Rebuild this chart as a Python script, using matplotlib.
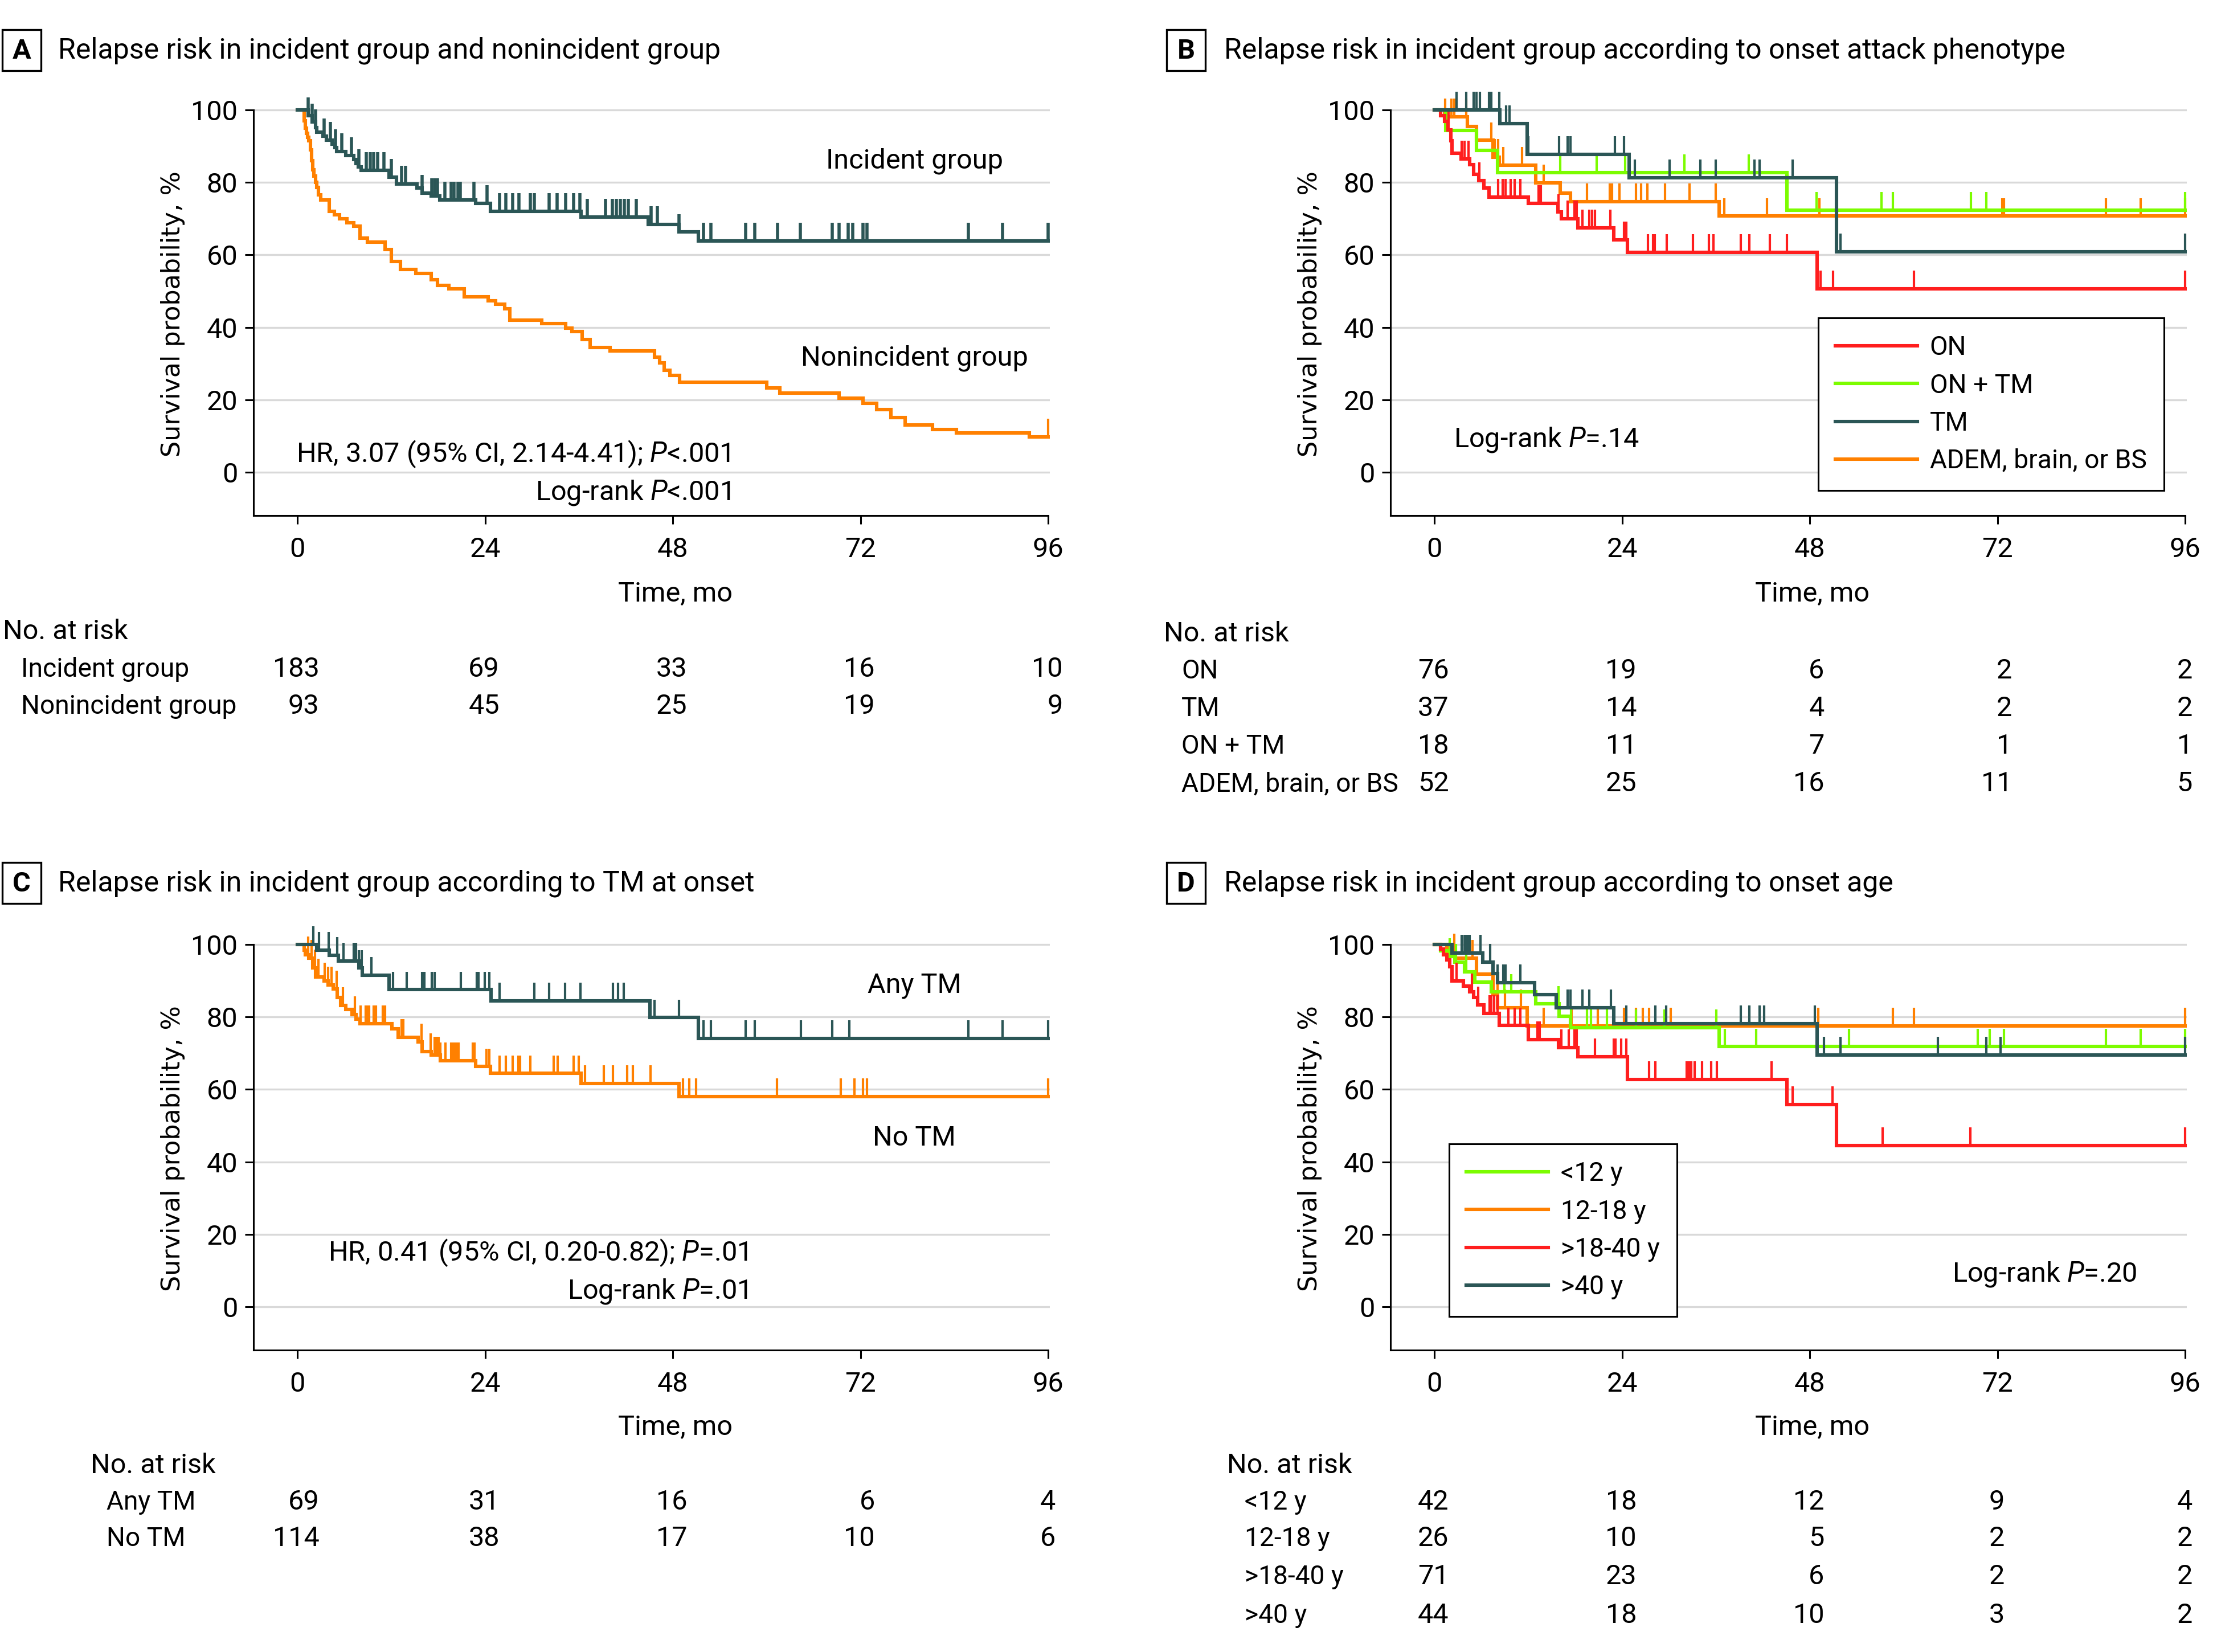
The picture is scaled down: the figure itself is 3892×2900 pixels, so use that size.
import numpy as np
import matplotlib.pyplot as plt
from matplotlib.lines import Line2D
from matplotlib.patches import Rectangle
from matplotlib.transforms import blended_transform_factory

plt.rcParams['font.family'] = ['Roboto', 'DejaVu Sans']
plt.rcParams['mathtext.fontset'] = 'custom'
plt.rcParams['mathtext.rm'] = 'Roboto'
plt.rcParams['mathtext.it'] = 'Roboto:italic'

TEAL = '#2b5656'
ORANGE = '#ff8000'
RED = '#ff1e1e'
GREEN = '#7cfc00'
GRID = '#d9d9d9'

risk_times = [0, 24, 48, 72, 96]
y_ticks = [0, 20, 40, 60, 80, 100]

# Panel A: incident vs nonincident
inc_t = [0, 1.39, 1.9, 2.3, 2.46, 3.28, 3.7, 4.41, 4.8, 5.06, 6.2, 7.18, 7.5, 7.8, 8.15,
         11.73, 12.7, 15.3, 15.95, 17.1, 18.2, 22.8, 24.7, 36.3, 44.9, 48.8, 51.3]
inc_s = [100, 98.4, 96.7, 95.2, 93.8, 92.7, 91.7, 90.6, 89.6, 88.5, 87.5, 86.3, 85.2, 84.2, 83.3,
         81.5, 79.6, 78.4, 77.0, 76.2, 75.2, 74.2, 72.0, 70.4, 68.4, 66.3, 63.9]
inc_c = [1.39, 1.91, 2.30, 3.44, 4.25, 4.90, 5.71, 6.91, 7.83, 8.80, 9.29, 9.78, 10.27, 11.08,
         12.05, 13.35, 13.84, 15.95, 17.19, 17.58, 17.90, 18.88, 19.69, 20.02, 20.51, 20.83,
         22.6, 24.25, 25.87, 26.69, 27.5, 28.3, 29.8, 30.3, 32.2, 33.2, 34.3, 35.3, 36.1, 37.1,
         39.4, 40.3, 40.8, 41.3, 41.8, 42.3, 43.3, 45.2, 46.0, 48.8, 51.9, 52.9, 57.3, 58.5,
         61.4, 64.3, 68.4, 69.3, 70.4, 71.0, 72.3, 72.8, 85.8, 90.2, 96]
non_t = [0, 0.84, 1.0, 1.15, 1.32, 1.49, 1.65, 1.81, 1.95, 2.14, 2.3, 2.46, 2.7, 2.95, 4.09,
         4.74, 5.39, 6.36, 7.18, 7.99, 8.96, 11.24, 12.05, 13.19, 15.14, 17.09, 17.91, 19.37,
         21.32, 24.41, 25.38, 26.53, 27.17, 31.24, 34.33, 35.14, 36.44, 37.41, 40.01, 45.7,
         46.3, 46.9, 47.6, 48.9, 60.0, 61.7, 69.3, 72.3, 74.1, 75.9, 77.7, 81.2, 84.3, 93.6]
non_s = [100, 97, 95, 93.5, 92.5, 91.5, 89, 86, 83.5, 81.8, 80, 78.6, 76.5, 75.2, 72,
         71, 70, 68.9, 67.9, 64.7, 63.5, 61.4, 58.2, 56, 54.9, 53.2, 51.6, 50.7,
         48.5, 47.4, 46.4, 45.1, 42, 41, 39.8, 38.8, 36.6, 34.5, 33.5, 31.7,
         30.2, 28.2, 26.7, 24.8, 23.3, 21.8, 20.4, 19.1, 17.3, 15.1, 13.1, 11.8, 10.8, 9.8]
non_c = [96]

# Panel B: onset attack phenotype
on_t = [0, 0.8, 1.29, 1.78, 2.1, 2.27, 3.41, 4.55, 5.03, 5.68, 6.33, 6.99, 12.03, 15.77,
        16.26, 18.37, 22.93, 24.72, 48.96]
on_s = [100, 98.5, 96.9, 94.5, 91.5, 88, 86.5, 84.9, 82.3, 80.5, 78.4, 76.0, 74.2, 71.8,
        70.0, 67.5, 64.2, 60.7, 50.6]
on_c = [1.84, 3.5, 3.89, 4.38, 5.78, 8.19, 8.71, 9.1, 9.75, 10.24, 10.99, 13.33, 13.59, 15.87,
        17.07, 17.89, 18.21, 18.93, 19.84, 20.16, 20.55, 22.5, 24.23, 24.56, 27.3, 28.0, 28.2,
        29.7, 33.1, 35.1, 35.7, 39.2, 40.3, 42.9, 45.1, 49.4, 51.0, 61.3, 96]
tm_t = [0, 8.4, 11.87, 24.9, 51.4]
tm_s = [100, 96.2, 87.7, 81.3, 60.9]
tm_c = [2.85, 4.06, 5.03, 5.36, 5.85, 6.99, 7.31, 8.29, 9.17, 9.59, 12.03, 15.93, 17.07, 17.4,
        23.1, 24.23, 25.63, 30.09, 34.0, 35.95, 40.93, 41.58, 45.8, 51.9, 96]
ontm_t = [0, 1.45, 5.36, 8.1, 45.1]
ontm_s = [100, 94.4, 88.9, 82.7, 72.3]
ontm_c = [16.1, 20.75, 24.4, 32.0, 40.2, 48.9, 57.2, 58.6, 68.6, 70.6, 96]
adem_t = [0, 1.3, 4.22, 5.36, 7.47, 8.29, 13.0, 16.1, 17.4, 36.4]
adem_s = [100, 98.1, 95.4, 91.6, 87.0, 84.8, 79.9, 77.1, 74.7, 70.7]
adem_c = [1.36, 2.2, 2.53, 4.06, 7.31, 7.73, 8.19, 8.84, 11.22, 13.98, 19.5, 22.44, 22.7, 23.7,
          25.76, 26.41, 27.26, 29.5, 32.6, 36.0, 37.1, 42.5, 49.2, 72.6, 72.8, 85.9, 90.3, 96]

# Panel C: TM at onset
anytm_t = [0, 2.46, 4.09, 5.23, 7.83, 8.32, 11.73, 24.74, 45.06, 51.3]
anytm_s = [100, 98.5, 97.0, 95.4, 93.5, 91.5, 87.5, 84.4, 79.8, 74.1]
anytm_c = [2.04, 2.79, 3.99, 5.07, 5.88, 7.18, 7.5, 7.83, 8.25, 9.46, 12.22, 14.01, 15.96, 16.22,
           17.19, 17.52, 20.9, 22.95, 23.18, 23.93, 24.58, 25.88, 30.27, 32.22, 34.24, 36.19,
           40.35, 41.0, 41.71, 45.7, 48.8, 51.9, 52.9, 57.3, 58.5, 64.4, 68.4, 70.6, 85.8, 90.2, 96]
notm_t = [0, 0.84, 1.0, 1.49, 1.98, 2.3, 3.44, 3.93, 4.58, 5.07, 5.55, 6.2, 7.02, 7.5, 7.99,
          12.06, 12.87, 15.47, 15.96, 17.1, 18.3, 22.79, 24.67, 36.28, 48.8]
notm_s = [100, 98.5, 97.2, 96.3, 93.6, 91.0, 90.0, 88.8, 87.8, 85.4, 83.2, 82.0, 80.7, 79.4, 78.1,
          76.8, 74.4, 73.1, 70.5, 69.5, 67.9, 66.3, 64.4, 61.7, 58.0]
notm_c = [1.42, 1.81, 2.24, 2.69, 3.5, 3.93, 4.35, 5.0, 5.81, 7.34, 8.06, 8.74, 8.97, 9.19, 9.78,
          10.04, 10.92, 11.18, 13.36, 13.58, 15.86, 17.03, 17.58, 17.81, 18.07, 18.3, 18.95, 19.7,
          19.86, 20.12, 20.35, 20.61, 22.46, 22.62, 24.19, 24.51, 25.88, 26.69, 27.5, 28.25, 28.48,
          29.78, 32.77, 33.29, 35.31, 35.96, 36.77, 39.21, 40.35, 42.14, 42.89, 45.13, 49.29, 50.1,
          51.0, 61.3, 69.5, 71.2, 72.3, 72.8, 96]

# Panel D: onset age
u12_t = [0, 0.8, 1.94, 2.59, 3.89, 5.2, 7.31, 13.0, 15.93, 17.4, 36.43]
u12_s = [100, 98.3, 96.7, 95.2, 92.4, 89.6, 86.9, 83.6, 80.2, 77.1, 71.8]
u12_c = [1.94, 2.76, 4.06, 8.94, 9.82, 15.87, 17.5, 19.5, 20.0, 22.1, 25.76, 29.4, 36.04, 37.15,
         41.15, 53.0, 69.5, 71.0, 72.8, 85.9, 90.3, 96]
a1218_t = [0, 1.62, 2.6, 5.36, 7.47, 8.12, 11.87]
a1218_s = [100, 98.0, 96.3, 91.9, 86.1, 82.6, 77.5]
a1218_c = [2.53, 4.87, 8.06, 9.04, 11.05, 13.98, 17.56, 20.88, 24.23, 25.76, 26.67, 27.49, 30.25,
           49.1, 58.6, 61.3, 96]
a1840_t = [0, 0.8, 1.13, 1.62, 1.94, 2.27, 3.73, 4.55, 5.03, 5.52, 6.33, 8.29, 12.03, 15.87,
           18.37, 24.72, 45.06, 51.4]
a1840_s = [100, 98.8, 97.2, 95.7, 93.8, 90.0, 88.6, 87.0, 85.4, 83.4, 81.0, 77.6, 73.8, 71.6,
           69.0, 62.7, 55.8, 44.5]
a1840_c = [2.85, 4.81, 5.59, 7.08, 7.31, 7.64, 8.12, 9.49, 10.24, 10.99, 13.17, 13.49, 16.26,
           17.17, 17.95, 18.21, 20.55, 22.93, 23.16, 23.91, 24.56, 27.49, 28.23, 32.27, 32.53,
           32.86, 33.25, 34.22, 35.39, 36.11, 43.1, 45.8, 50.9, 57.3, 68.5, 96]
o40_t = [0, 2.27, 6.17, 7.47, 8.12, 12.84, 15.61, 22.93, 48.96]
o40_s = [100, 97.7, 95.1, 92.0, 89.5, 86.1, 82.6, 78.2, 69.5]
o40_c = [3.5, 3.83, 4.06, 4.28, 4.48, 5.91, 7.15, 8.12, 8.84, 9.1, 10.99, 17.07, 17.4, 18.93,
         19.84, 22.6, 24.56, 28.23, 29.67, 39.2, 40.27, 41.58, 42.19, 48.64, 49.8, 51.9, 64.4,
         70.6, 72.4, 96]

# numbers at risk
risk_a_labels = ['Incident group', 'Nonincident group']
risk_a = [[183, 69, 33, 16, 10], [93, 45, 25, 19, 9]]
risk_b_labels = ['ON', 'TM', 'ON + TM', 'ADEM, brain, or BS']
risk_b = [[76, 19, 6, 2, 2], [37, 14, 4, 2, 2], [18, 11, 7, 1, 1], [52, 25, 16, 11, 5]]
risk_c_labels = ['Any TM', 'No TM']
risk_c = [[69, 31, 16, 6, 4], [114, 38, 17, 10, 6]]
risk_d_labels = ['<12 y', '12-18 y', '>18-40 y', '>40 y']
risk_d = [[42, 18, 12, 9, 4], [26, 10, 5, 2, 2], [71, 23, 6, 2, 2], [44, 18, 10, 3, 2]]

W, H, DPI = 3892, 2900, 200
FS = 17.5
FS_LAB = 16.6
LW = 2.2
fig = plt.figure(figsize=(W / DPI, H / DPI), dpi=DPI)

XMIN, XMAX, YMIN, YMAX = -5.6, 96.2, -11.9, 105
PXM, PYU = 13.73, 6.36


def fy(y):
    return 1 - y / H


def add_panel(x0, y0):
    left, right = x0 + XMIN * PXM, x0 + XMAX * PXM
    top, bottom = y0 - YMAX * PYU, y0 - YMIN * PYU
    ax = fig.add_axes([left / W, fy(bottom), (right - left) / W, (bottom - top) / H])
    ax.set_xlim(XMIN, XMAX)
    ax.set_ylim(YMIN, YMAX)
    for s in ['top', 'right']:
        ax.spines[s].set_visible(False)
    ax.spines['left'].set_bounds(YMIN, 100)
    ax.spines['bottom'].set_bounds(XMIN, 96)
    for s in ['left', 'bottom']:
        ax.spines[s].set_linewidth(1.1)
    ax.set_xticks(risk_times)
    ax.set_yticks(y_ticks)
    ax.tick_params(length=5.5, width=1.1, labelsize=FS)
    ax.tick_params(axis='x', pad=8)
    ax.tick_params(axis='y', pad=4.5)
    ax.yaxis.grid(True, color=GRID, lw=1.2)
    ax.set_axisbelow(True)
    ax.set_ylabel('Survival probability, %', family='DejaVu Sans', fontsize=16)
    ax.yaxis.set_label_coords(-0.0858, 0.4756)
    return ax


def km(ax, times, surv, cens, color, lw=LW, tick_lw=1.5):
    t = np.append(times, max(cens))
    s = np.append(surv, surv[-1])
    ax.step(t, s, where='post', color=color, lw=lw, solid_joinstyle='miter')
    idx = np.searchsorted(times, cens, side='right') - 1
    lev = np.asarray(surv, dtype=float)[idx]
    ax.vlines(cens, lev, lev + 5, color=color, lw=tick_lw)


def panel_title(letter, box_x, text_x, yc, title):
    fig.add_artist(Rectangle((box_x / W, fy(yc + 36)), 68 / W, 72 / H, transform=fig.transFigure,
                             fill=False, ec='black', lw=1.2))
    fig.text((box_x + 34) / W, fy(yc + 2), letter, ha='center', va='center', fontsize=FS,
             fontweight='bold')
    fig.text(text_x / W, fy(yc + 1), title, ha='left', va='center', fontsize=18)


def risk_table(ax, head_x, head_y, lab_x, rows_y, labels, counts, time_y):
    trans = blended_transform_factory(ax.transData, fig.transFigure)
    ax.text(48.3, fy(time_y + 4), 'Time, mo', transform=trans, ha='center', va='center',
            fontsize=FS)
    fig.text(head_x / W, fy(head_y + 5), 'No. at risk', ha='left', va='center', fontsize=FS)
    for lab, y in zip(labels, rows_y):
        fig.text(lab_x / W, fy(y + 4), lab, ha='left', va='center', fontsize=FS_LAB)
    for j, t in enumerate(risk_times):
        maxlen = max(len(str(r[j])) for r in counts)
        for y, row in zip(rows_y, counts):
            ax.text(t + maxlen * 0.93, fy(y + 4), str(row[j]), transform=trans, ha='right',
                    va='center', fontsize=FS)


def legend(ax, colors, labels, x, y):
    hs = [Line2D([], [], color=c, lw=LW) for c in colors]
    leg = ax.legend(hs, labels, loc='upper left', bbox_to_anchor=(x / W, fy(y)),
                    bbox_transform=fig.transFigure, fontsize=FS_LAB, frameon=True,
                    fancybox=False, edgecolor='black', framealpha=1, borderpad=0.66,
                    handlelength=3.12, handletextpad=0.46, labelspacing=0.48, borderaxespad=0)
    leg.get_frame().set_linewidth(1.1)


# ---- Panel A ----
axA = add_panel(522, 829)
km(axA, non_t, non_s, non_c, ORANGE)
km(axA, inc_t, inc_s, inc_c, TEAL, tick_lw=2.0)
axA.text(78.9, 85.9, 'Incident group', ha='center', va='center', fontsize=FS)
axA.text(78.9, 31.5, 'Nonincident group', ha='center', va='center', fontsize=FS)
axA.text(55.4, 4.9, r'HR, 3.07 (95% CI, 2.14-4.41); $\mathit{P}$<.001', ha='right', va='center',
         fontsize=FS)
axA.text(55.4, -5.6, r'Log-rank $\mathit{P}$<.001', ha='right', va='center', fontsize=FS)
panel_title('A', 4, 102, 88, 'Relapse risk in incident group and nonincident group')
risk_table(axA, 5, 1104, 37, [1171, 1236], risk_a_labels, risk_a, 1039)

# ---- Panel B ----
axB = add_panel(2518, 829)
km(axB, adem_t, adem_s, adem_c, ORANGE)
km(axB, ontm_t, ontm_s, ontm_c, GREEN)
km(axB, on_t, on_s, on_c, RED)
km(axB, tm_t, tm_s, tm_c, TEAL)
axB.text(2.5, 8.9, r'Log-rank $\mathit{P}$=.14', ha='left', va='center', fontsize=FS)
legend(axB, [RED, GREEN, TEAL, ORANGE], ['ON', 'ON + TM', 'TM', 'ADEM, brain, or BS'], 3192, 558)
panel_title('B', 2048, 2149, 88, 'Relapse risk in incident group according to onset attack phenotype')
risk_table(axB, 2043, 1108, 2074, [1174, 1240, 1306, 1372], risk_b_labels, risk_b, 1039)

# ---- Panel C ----
axC = add_panel(522, 2294)
km(axC, notm_t, notm_s, notm_c, ORANGE)
km(axC, anytm_t, anytm_s, anytm_c, TEAL)
axC.text(78.9, 88.7, 'Any TM', ha='center', va='center', fontsize=FS)
axC.text(78.9, 46.6, 'No TM', ha='center', va='center', fontsize=FS)
axC.text(57.6, 14.8, r'HR, 0.41 (95% CI, 0.20-0.82); $\mathit{P}$=.01', ha='right', va='center',
         fontsize=FS)
axC.text(57.6, 4.3, r'Log-rank $\mathit{P}$=.01', ha='right', va='center', fontsize=FS)
panel_title('C', 4, 102, 1550, 'Relapse risk in incident group according to TM at onset')
risk_table(axC, 159, 2568, 187, [2633, 2697], risk_c_labels, risk_c, 2502)

# ---- Panel D ----
axD = add_panel(2518, 2294)
km(axD, a1218_t, a1218_s, a1218_c, ORANGE)
km(axD, u12_t, u12_s, u12_c, GREEN)
km(axD, a1840_t, a1840_s, a1840_c, RED)
km(axD, o40_t, o40_s, o40_c, TEAL)
axD.text(89.8, 9.0, r'Log-rank $\mathit{P}$=.20', ha='right', va='center', fontsize=FS)
legend(axD, [GREEN, ORANGE, RED, TEAL], risk_d_labels, 2544, 2008)
panel_title('D', 2048, 2149, 1550, 'Relapse risk in incident group according to onset age')
risk_table(axD, 2154, 2568, 2185, [2633, 2697, 2764, 2832], risk_d_labels, risk_d, 2502)

fig.savefig('out.png', dpi=DPI, facecolor='white')
